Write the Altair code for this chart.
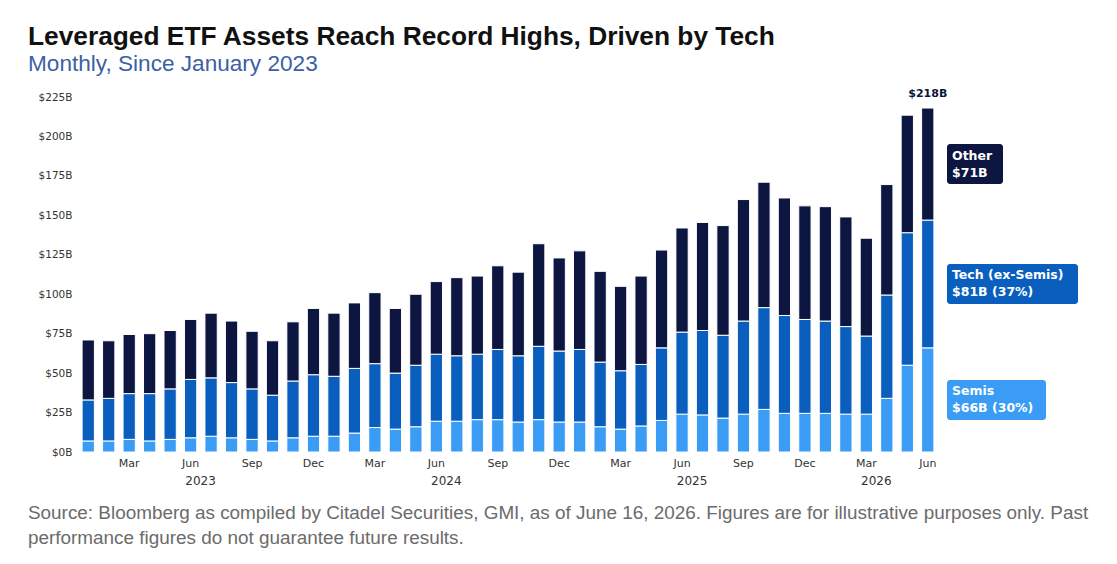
import altair as alt
import pandas as pd

# ---- data ($B) ----
months = [f"{y}-{m:02d}" for y in (2023, 2024, 2025) for m in range(1, 13)] + \
         [f"2026-{m:02d}" for m in range(1, 7)]
semis = [7, 7, 8, 7, 8, 9, 10, 9, 8, 7, 9, 10,
         10, 12, 15.5, 14.5, 16, 19.5, 19.5, 20.5, 20.5, 19, 20.5, 19,
         19, 16, 14.5, 16.5, 20, 24, 23.5, 21.5, 24, 27, 24.5, 24.5,
         24.5, 24, 24, 34, 55, 66]
tech = [26, 27, 29, 30, 32, 37, 37, 35, 32, 29, 36, 39,
        38, 41, 40.5, 35.5, 39, 42.5, 41.5, 41.5, 44.5, 42, 46.5, 45,
        46, 41, 37, 39, 46, 52, 53.5, 52.5, 59, 64.5, 62, 59.5,
        58.5, 55.5, 49.5, 65.5, 84, 81]
other = [38, 36.5, 37.5, 38, 37, 38, 41, 39, 36.5, 34.5, 37.5, 42,
         40, 41.5, 45, 41, 45, 46, 49.5, 49.5, 53, 53, 65, 59,
         62.5, 57.5, 53.5, 56, 62, 66, 68.5, 69.5, 77, 79.5, 74.5, 72,
         72.5, 69.5, 62, 70, 74.5, 71]
segments = ["Semis", "Tech (ex-Semis)", "Other"]
colors = ["#3a9cf5", "#0a5fbe", "#0c1640"]
years = ["2023", "2024", "2025", "2026"]
year_anchor = ["2023-06", "2024-06", "2025-06", "2026-03"]
y_ticks = [0, 25, 50, 75, 100, 125, 150, 175, 200, 225]

title = "Leveraged ETF Assets Reach Record Highs, Driven by Tech"
subtitle = "Monthly, Since January 2023"
footer = ["Source: Bloomberg as compiled by Citadel Securities, GMI, as of June 16, 2026. Figures are for illustrative purposes only. Past",
          "performance figures do not guarantee future results."]

# ---- tables ----
rows = []
for i, m in enumerate(months):
    for k, (seg, vals) in enumerate(zip(segments, [semis, tech, other])):
        rows.append({"month": m, "segment": seg, "value": vals[i], "order": k})
df = pd.DataFrame(rows)

total_last = semis[-1] + tech[-1] + other[-1]
top_df = pd.DataFrame({"month": [months[-1]], "total": [total_last],
                       "label": [f"${total_last:g}B"]})

ann = pd.DataFrame({
    "segment": segments,
    "mid": [semis[-1] / 2, semis[-1] + tech[-1] / 2, semis[-1] + tech[-1] + other[-1] / 2],
    "text": [f"Semis\n${semis[-1]:g}B ({round(semis[-1] / total_last * 100)}%)",
             f"Tech (ex-Semis)\n${tech[-1]:g}B ({round(tech[-1] / total_last * 100)}%)",
             f"Other\n${other[-1]:g}B"],
})
ann["lo"] = ann["mid"] - 12.7
ann["hi"] = ann["mid"] + 12.7

years_df = pd.DataFrame({"year": years, "month": year_anchor})

W, H = 860, 355
xscale = alt.Scale(domain=months, paddingInner=0.4, paddingOuter=0.2)
yscale = alt.Scale(domain=[0, 225], nice=False)

label_expr = ("slice(datum.value,5)=='03' ? 'Mar' : slice(datum.value,5)=='06' ? 'Jun' : "
              "slice(datum.value,5)=='09' ? 'Sep' : slice(datum.value,5)=='12' ? 'Dec' : ''")

x_axis = alt.Axis(title=None, labelExpr=label_expr, labelAngle=0, ticks=False,
                  domain=False, labelFont="DejaVu Sans", labelFontSize=11,
                  labelColor="#333333", labelPadding=5, labelOverlap=False)
y_axis = alt.Axis(title=None, values=y_ticks, labelExpr="'$' + datum.value + 'B'",
                  grid=False, ticks=False, domain=False, labelFont="DejaVu Sans",
                  labelFontSize=10.5, labelColor="#333333", labelPadding=6,
                  labelOverlap=False)


def X(field):
    return alt.X(field, scale=xscale, sort=months, axis=x_axis)


def Y(field, **kw):
    return alt.Y(field, scale=yscale, axis=y_axis, **kw)


bars = alt.Chart(df).mark_bar(stroke="white", strokeWidth=1).encode(
    x=X("month:N"),
    y=Y("value:Q", stack="zero"),
    color=alt.Color("segment:N", scale=alt.Scale(domain=segments, range=colors), legend=None),
    order=alt.Order("order:Q"),
)

top_label = alt.Chart(top_df).mark_text(
    dy=-9, font="DejaVu Sans", fontSize=11, fontWeight="bold", color="#0c1640", baseline="bottom"
).encode(x=X("month:N"), y=Y("total:Q"), text="label:N")

year_labels = alt.Chart(years_df).mark_text(
    dx=10, font="DejaVu Sans", fontSize=12, color="#333333", baseline="middle"
).encode(x=X("month:N"), y=alt.value(H + 29), text="year:N")

box_right = {"Other": 925, "Tech (ex-Semis)": 1000, "Semis": 968}
box_layers = []
for seg, col in zip(segments, colors):
    sub = ann[ann["segment"] == seg]
    box_layers.append(
        alt.Chart(sub).mark_rect(color=col, cornerRadius=3).encode(
            x=alt.value(869), x2=alt.value(box_right[seg]),
            y=Y("lo:Q"), y2="hi:Q"))
ann_text = alt.Chart(ann).mark_text(
    align="left", baseline="middle", lineBreak="\n", lineHeight=17, dy=-8.5,
    font="DejaVu Sans", fontSize=12.5, fontWeight="bold", color="white"
).encode(x=alt.value(874), y=Y("mid:Q"), text="text:N")


def free_text(txt, x, y, **kw):
    return alt.Chart(pd.DataFrame({"t": [txt]})).mark_text(
        align="left", baseline="alphabetic", **kw
    ).encode(x=alt.value(x), y=alt.value(y), text="t:N")


title_mark = free_text(title, -50, -52, font="Liberation Sans", fontSize=26.3,
                       fontWeight="bold", color="#111111")
sub_mark = free_text(subtitle, -50, -26, font="Liberation Sans", fontSize=22.6, color="#3c5fa5")
foot_marks = [free_text(line, -50, 422 + 25 * i, font="Liberation Sans", fontSize=18.9,
                        color="#6b6b6b") for i, line in enumerate(footer)]

chart = alt.layer(bars, top_label, year_labels, *box_layers, ann_text,
                  title_mark, sub_mark, *foot_marks).properties(
    width=W, height=H,
    autosize=alt.AutoSizeParams(type="none"),
    padding={"left": 70, "top": 89, "right": 171, "bottom": 104},
    background="white",
).configure_view(stroke=None)

chart.save("out.html", embed_options={"renderer": "svg", "actions": False})
